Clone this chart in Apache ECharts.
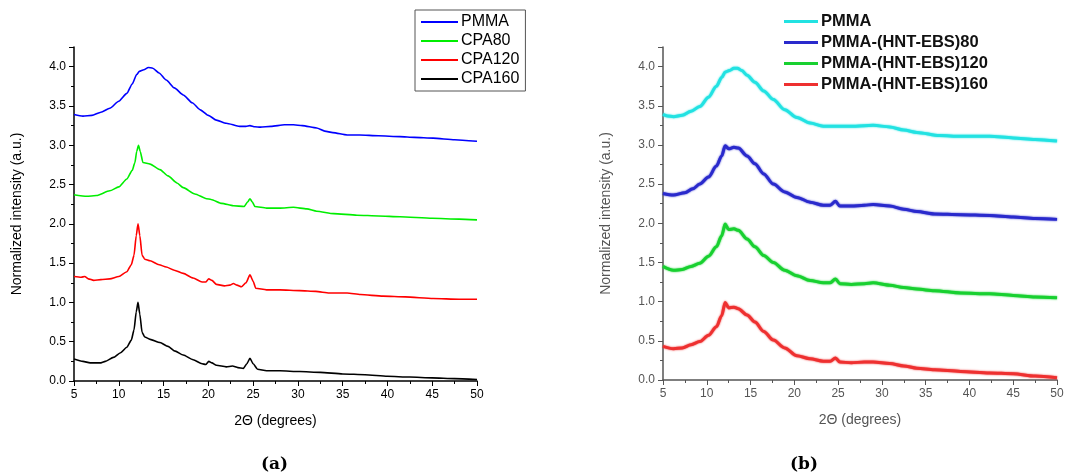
<!DOCTYPE html>
<html>
<head>
<meta charset="utf-8">
<script src="https://cdn.jsdelivr.net/npm/echarts@6/dist/echarts.min.js"></script>
<style>
  html, body { margin: 0; padding: 0; background: #fff; }
  #main { width: 1087px; height: 476px; }
</style>
</head>
<body>
<div id="main"></div>
<script>
// panel (a): [2theta, intensity]
var pmmaA = [[5,3.39],[6,3.37],[7,3.38],[8,3.42],[9,3.47],[10,3.56],[10.9,3.66],[11.5,3.78],[12,3.90],[12.3,3.94],[12.8,3.96],[13.3,3.99],[13.8,3.98],[14.5,3.92],[15.3,3.83],[16.2,3.73],[17.2,3.64],[18.2,3.54],[19.1,3.45],[20,3.38],[20.9,3.32],[22,3.28],[23.5,3.24],[24.2,3.24],[24.65,3.25],[25.2,3.235],[25.8,3.23],[27,3.24],[28.5,3.26],[29.5,3.26],[30.5,3.25],[32.1,3.22],[33,3.18],[33.9,3.16],[35.5,3.13],[36.9,3.13],[39,3.12],[41.4,3.11],[43,3.10],[45.1,3.09],[47.5,3.07],[50,3.05]];
var cpa80 = [[5,2.37],[5.5,2.36],[6.4,2.35],[7.5,2.36],[9,2.42],[10,2.47],[10.9,2.57],[11.5,2.68],[11.8,2.78],[12.0,2.92],[12.2,3.0],[12.4,2.92],[12.7,2.78],[13.5,2.76],[14.6,2.69],[15.5,2.61],[16.5,2.52],[17.2,2.46],[18.5,2.38],[19.8,2.32],[20.3,2.31],[21.5,2.26],[22.8,2.23],[24.0,2.22],[24.4,2.28],[24.65,2.32],[24.9,2.28],[25.2,2.22],[26.5,2.20],[28,2.20],[29.5,2.21],[31,2.19],[32.1,2.16],[34,2.13],[36.6,2.11],[39,2.10],[41.4,2.09],[45,2.07],[48,2.06],[50,2.05]];
var cpa120 = [[5,1.33],[5.8,1.32],[6.2,1.33],[6.6,1.30],[7.2,1.28],[8,1.29],[9,1.30],[10,1.33],[10.9,1.39],[11.4,1.48],[11.7,1.60],[11.95,1.85],[12.15,2.0],[12.35,1.85],[12.6,1.60],[12.9,1.55],[13.5,1.53],[14.5,1.48],[15.3,1.45],[16.2,1.41],[17.2,1.37],[18.3,1.31],[19.3,1.26],[19.7,1.26],[20.05,1.30],[20.4,1.28],[20.9,1.23],[21.8,1.21],[22.4,1.22],[22.8,1.24],[23.2,1.22],[23.7,1.20],[24.2,1.25],[24.65,1.35],[25.0,1.27],[25.3,1.18],[26.5,1.16],[28,1.16],[30.2,1.15],[32,1.14],[33.5,1.12],[35.5,1.12],[37,1.10],[39.5,1.08],[42,1.07],[45.1,1.05],[48,1.04],[50,1.04]];
var cpa160 = [[5,0.28],[6,0.25],[6.8,0.23],[7.9,0.23],[8.5,0.25],[9.4,0.30],[10.2,0.36],[10.9,0.43],[11.4,0.52],[11.7,0.65],[11.95,0.88],[12.15,1.0],[12.35,0.85],[12.6,0.62],[12.9,0.56],[13.5,0.53],[14.6,0.49],[15.5,0.44],[16.3,0.38],[17.2,0.33],[18.3,0.27],[19.3,0.22],[19.7,0.21],[20.05,0.25],[20.4,0.23],[20.9,0.20],[22,0.18],[22.7,0.19],[23.3,0.17],[23.9,0.16],[24.3,0.22],[24.65,0.29],[25.0,0.22],[25.5,0.15],[26.5,0.13],[28,0.13],[30.2,0.12],[32.5,0.11],[35,0.09],[37.5,0.08],[40,0.06],[42.5,0.05],[45,0.04],[47.5,0.03],[50,0.02]];

// panel (b)
var pmmaB = [[5,3.39],[5.5,3.37],[6.2,3.36],[7.2,3.38],[8.2,3.43],[9.2,3.49],[10.2,3.61],[11.1,3.75],[11.7,3.86],[12.1,3.93],[12.6,3.95],[13.1,3.98],[13.5,3.98],[14,3.95],[14.6,3.89],[15.5,3.80],[16.5,3.69],[17.6,3.58],[18.9,3.45],[20.3,3.35],[21.8,3.28],[23.3,3.24],[25.2,3.24],[27,3.24],[29,3.25],[30.9,3.23],[32.5,3.19],[34,3.16],[36.6,3.12],[39,3.11],[42.3,3.11],[45,3.09],[47.5,3.07],[50,3.05]];
var hnt80 = [[5,2.38],[6.2,2.36],[7.5,2.39],[8.4,2.44],[9.2,2.50],[10.2,2.59],[11.1,2.73],[11.7,2.86],[12.1,2.99],[12.5,2.95],[13.1,2.97],[13.6,2.96],[14.6,2.86],[15.5,2.76],[16.5,2.63],[17.6,2.50],[18.9,2.40],[20.3,2.33],[21.8,2.27],[23.3,2.23],[24.1,2.23],[24.7,2.28],[25.2,2.22],[26.5,2.22],[28,2.23],[29,2.24],[30.9,2.22],[32.5,2.18],[34,2.15],[36,2.12],[39,2.11],[42.3,2.10],[45,2.08],[47.5,2.06],[50,2.05]];
var hnt120 = [[5,1.45],[6.2,1.40],[7.2,1.41],[8.2,1.45],[9.2,1.49],[10.2,1.58],[11.1,1.70],[11.7,1.84],[12.1,1.99],[12.5,1.92],[13.1,1.93],[13.6,1.91],[14.6,1.80],[15.5,1.70],[16.5,1.59],[17.6,1.50],[18.9,1.40],[20.3,1.33],[21.8,1.27],[23.3,1.24],[24.1,1.24],[24.7,1.29],[25.2,1.23],[26.5,1.22],[28,1.23],[29,1.24],[30.9,1.21],[32.5,1.18],[34,1.16],[36,1.14],[39,1.11],[42.3,1.10],[45,1.08],[47.5,1.06],[50,1.05]];
var hnt160 = [[5,0.43],[6.2,0.40],[7.2,0.41],[8.2,0.45],[9.2,0.49],[10.2,0.57],[11.1,0.68],[11.7,0.82],[12.1,0.99],[12.5,0.92],[13.1,0.93],[13.6,0.91],[14.6,0.83],[15.5,0.74],[16.5,0.62],[17.6,0.51],[18.9,0.41],[20.3,0.31],[21.8,0.27],[23.3,0.24],[24.1,0.24],[24.7,0.28],[25.2,0.23],[26.5,0.22],[28,0.23],[29,0.23],[30.9,0.21],[32.5,0.18],[34,0.15],[36,0.13],[39,0.11],[42.3,0.09],[45,0.08],[47.5,0.05],[50,0.03]];

var namesA = ["PMMA", "CPA80", "CPA120", "CPA160"];
var namesB = ["PMMA", "PMMA-(HNT-EBS)80", "PMMA-(HNT-EBS)120", "PMMA-(HNT-EBS)160"];
var colorsA = ["#0000ff", "#00ee00", "#ff0000", "#000000"];
var colorsB = ["#22e2e2", "#2a2acc", "#18d030", "#ee3030"];

var font = "Liberation Sans, Arial, sans-serif";

function xAx(idx, c) {
  return {
    gridIndex: idx, type: "value", min: 5, max: 50, interval: 5,
    name: "2Θ (degrees)", nameLocation: "middle", nameGap: 33,
    nameTextStyle: { fontFamily: font, fontSize: 14, color: c },
    splitLine: { show: false },
    axisLine: { lineStyle: { color: c, width: 1.5 } },
    axisTick: { length: 5, lineStyle: { color: c } },
    minorTick: { show: true, splitNumber: 2, length: 3, lineStyle: { color: c } },
    axisLabel: { fontFamily: font, fontSize: 12, color: c, margin: 8 }
  };
}
function yAx(idx, c) {
  return {
    gridIndex: idx, type: "value", min: 0, max: 4.25, interval: 0.5,
    name: "Normalized intensity (a.u.)", nameLocation: "middle", nameGap: 50,
    nameTextStyle: { fontFamily: font, fontSize: 14, color: c },
    splitLine: { show: false },
    axisLine: { show: true, lineStyle: { color: c, width: 1.5 } },
    axisTick: { show: true, length: 5, lineStyle: { color: c } },
    minorTick: { show: true, splitNumber: 2, length: 3, lineStyle: { color: c } },
    axisLabel: {
      fontFamily: font, fontSize: 12, color: c, margin: 8,
      formatter: function (v) { return Math.abs(v * 2 - Math.round(v * 2)) < 1e-6 ? v.toFixed(1) : ""; }
    }
  };
}

var dataA = [pmmaA, cpa80, cpa120, cpa160];
var dataB = [pmmaB, hnt80, hnt120, hnt160];
var series = [];
for (var i = 0; i < 4; i++) {
  series.push({
    name: namesA[i], type: "line", xAxisIndex: 0, yAxisIndex: 0,
    data: dataA[i], symbol: "none", smooth: 0.2, smoothMonotone: "x",
    color: colorsA[i], lineStyle: { width: 1.6, color: colorsA[i] }
  });
}
for (var j = 0; j < 4; j++) {
  series.push({
    name: namesB[j] + " (b)", type: "line", xAxisIndex: 1, yAxisIndex: 1,
    data: dataB[j], symbol: "none", smooth: 0.3, smoothMonotone: "x",
    color: colorsB[j],
    lineStyle: { width: 3, color: colorsB[j], shadowBlur: 2, shadowColor: colorsB[j] }
  });
}

var myChart = echarts.init(document.getElementById("main"));
myChart.setOption({
  animation: false,
  backgroundColor: "#fff",
  title: [
    { text: "(a)", left: 256, top: 451, textStyle: { fontFamily: "DejaVu Serif, serif", fontSize: 17, fontWeight: "bold", color: "#000" } },
    { text: "(b)", left: 785, top: 451, textStyle: { fontFamily: "DejaVu Serif, serif", fontSize: 17, fontWeight: "bold", color: "#000" } }
  ],
  grid: [
    { left: 74, top: 47, width: 403, height: 334 },
    { left: 663, top: 47, width: 394, height: 333 }
  ],
  legend: [
    {
      data: namesA, orient: "vertical", left: 415, top: 10,
      padding: [4, 6, 4, 6], itemGap: 3, itemWidth: 37, itemHeight: 2, icon: "rect",
      borderColor: "#555", borderWidth: 1,
      textStyle: { fontFamily: font, fontSize: 16, color: "#000", padding: [0, 0, 0, -2] }
    },
    {
      data: namesB.map(function (n) { return n + " (b)"; }), orient: "vertical", left: 784, top: 13,
      padding: 0, itemGap: 4, itemWidth: 34, itemHeight: 3, icon: "rect",
      formatter: function (n) { return n.replace(" (b)", ""); },
      textStyle: { fontFamily: font, fontSize: 16.5, fontWeight: "bold", color: "#111", padding: [0, 0, 0, -2] }
    }
  ],
  xAxis: [xAx(0, "#000"), xAx(1, "#555")],
  yAxis: [yAx(0, "#000"), yAx(1, "#555")],
  series: series
});
</script>
</body>
</html>
